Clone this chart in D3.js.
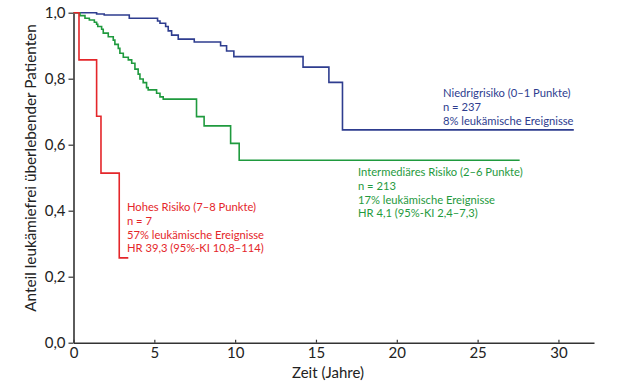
<!DOCTYPE html>
<html>
<head>
<meta charset="utf-8">
<script src="https://cdn.jsdelivr.net/npm/d3@7"></script>
<style>
  body { margin: 0; background: #fff; }
  svg { display: block; }
  text { font-family: Lato, "Open Sans", sans-serif; }
</style>
</head>
<body>
<svg id="chart" width="620" height="386"></svg>
<script>
// Kaplan-Meier steps (time in years, survival fraction)
const lowTimes  = [0, 1.43, 1.9, 3.45, 5.2, 5.35, 5.7, 5.86, 6.07, 6.48, 7.47, 9.1, 9.47, 9.92, 14.2, 15.8, 16.64, 30.95];
const lowSurv   = [1, 0.996, 0.993, 0.983, 0.975, 0.968, 0.958, 0.945, 0.932, 0.920, 0.911, 0.900, 0.884, 0.867, 0.835, 0.789, 0.645, 0.645];

const midTimes  = [0, 0.40, 0.71, 0.98, 1.29, 1.43, 1.50, 1.74, 1.84, 2.15, 2.46, 2.56, 2.77, 2.87, 3.08, 3.39, 3.60, 3.80, 4.00, 4.11, 4.31, 4.52, 4.62, 5.14, 5.35, 5.55, 7.61, 8.08, 9.72, 10.25, 27.6];
const midSurv   = [1, 0.991, 0.983, 0.978, 0.971, 0.965, 0.958, 0.950, 0.938, 0.927, 0.917, 0.904, 0.892, 0.877, 0.865, 0.857, 0.847, 0.829, 0.814, 0.799, 0.788, 0.773, 0.766, 0.756, 0.745, 0.738, 0.685, 0.657, 0.604, 0.553, 0.553];

const highTimes = [0, 0.34, 1.43, 1.70, 2.83, 3.39];
const highSurv  = [1, 0.857, 0.686, 0.514, 0.257, 0.257];

const xTicks = [0, 5, 10, 15, 20, 25, 30];
const yTicks = [0, 0.2, 0.4, 0.6, 0.8, 1.0];

const lowLabel  = ['Niedrigrisiko (0–1 Punkte)', 'n = 237', '8% leukämische Ereignisse'];
const midLabel  = ['Intermediäres Risiko (2–6 Punkte)', 'n = 213', '17% leukämische Ereignisse', 'HR 4,1 (95%-KI 2,4–7,3)'];
const highLabel = ['Hohes Risiko (7–8 Punkte)', 'n = 7', '57% leukämische Ereignisse', 'HR 39,3 (95%-KI 10,8–114)'];

const blue = '#2e3d8f', green = '#1f9a3e', red = '#e4262a', axisCol = '#333';

const svg = d3.select('#chart');

// scales
const x = d3.scaleLinear().domain([0, 32.2]).range([73.5, 594]);
const y = d3.scaleLinear().domain([0, 1]).range([342.7, 12.7]);

const de = d3.formatLocale({ decimal: ',', thousands: '.', grouping: [3], currency: ['', ' €'] });

// axes
const xAxis = svg.append('g')
  .attr('transform', 'translate(0,' + y(0) + ')')
  .call(d3.axisBottom(x).tickValues(xTicks).tickSizeInner(-3).tickSizeOuter(0).tickPadding(5));
const yAxis = svg.append('g')
  .attr('transform', 'translate(' + x(0) + ',0)')
  .call(d3.axisLeft(y).tickValues(yTicks).tickFormat(de.format('.1f')).tickSizeInner(5).tickSizeOuter(0).tickPadding(3));

[xAxis, yAxis].forEach(function (g) {
  g.select('.domain').attr('stroke', axisCol).attr('stroke-width', 1.6);
  g.selectAll('.tick line').attr('stroke', axisCol).attr('stroke-width', 1.2);
  g.selectAll('.tick text').attr('fill', '#222').style('font-size', '15px');
});

// axis titles
svg.append('text')
  .attr('x', 328).attr('y', 378)
  .attr('text-anchor', 'middle')
  .attr('fill', '#222').style('font-size', '15px')
  .text('Zeit (Jahre)');
svg.append('text')
  .attr('transform', 'translate(36,168) rotate(-90)')
  .attr('text-anchor', 'middle')
  .attr('fill', '#222').style('font-size', '15.3px')
  .text('Anteil leukämiefrei überlebender Patienten');

// survival curves
const line = d3.line()
  .x(function (d) { return x(d[0]); })
  .y(function (d) { return y(d[1]); })
  .curve(d3.curveStepAfter);

const curves = [
  { times: lowTimes, surv: lowSurv, color: blue },
  { times: midTimes, surv: midSurv, color: green },
  { times: highTimes, surv: highSurv, color: red }
];

curves.forEach(function (c) {
  svg.append('path')
    .datum(d3.zip(c.times, c.surv))
    .attr('fill', 'none')
    .attr('stroke', c.color)
    .attr('stroke-width', 1.6)
    .attr('d', line);
});

// group labels
function addLabel(lines, px, py, color) {
  const t = svg.append('text')
    .attr('fill', color)
    .style('font-size', '11.2px');
  lines.forEach(function (s, i) {
    t.append('tspan').attr('x', px).attr('y', py + i * 13.8).text(s);
  });
}
addLabel(lowLabel, 443, 97, blue);
addLabel(midLabel, 358, 176, green);
addLabel(highLabel, 127, 211, red);
</script>
</body>
</html>
